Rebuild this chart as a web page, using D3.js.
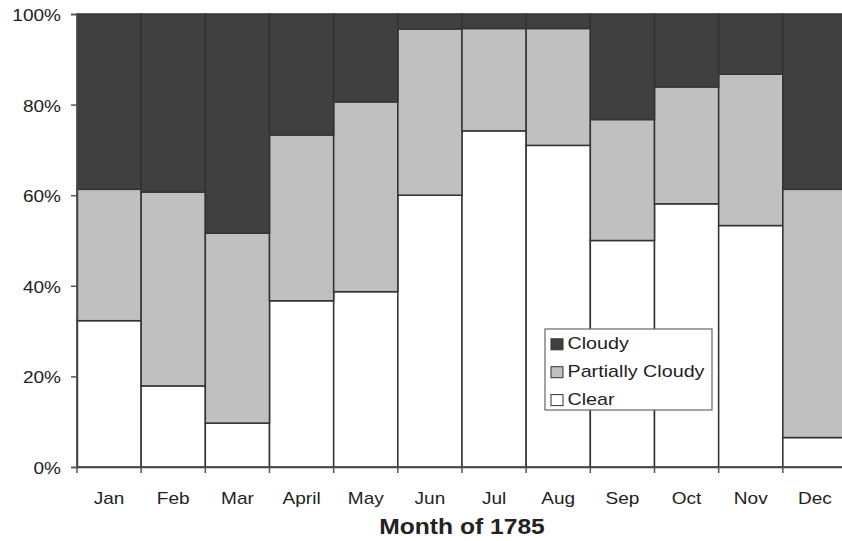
<!DOCTYPE html>
<html><head><meta charset="utf-8">
<script src="https://cdn.jsdelivr.net/npm/d3@7"></script>
<style>body{margin:0;background:#fff}svg{display:block}text{font-family:"Liberation Sans",Arial,sans-serif;fill:#222}</style>
</head><body>
<script>
const months = ["Jan","Feb","Mar","April","May","Jun","Jul","Aug","Sep","Oct","Nov","Dec"];
const clear =   [32.3, 17.9, 9.7, 36.7, 38.7, 60.0, 74.2, 71.0, 50.0, 58.1, 53.3, 6.5];
const partly =  [29.0, 42.8, 41.9, 36.6, 41.9, 36.7, 22.6, 25.8, 26.7, 25.8, 33.4, 54.8];
const cloudy =  [38.7, 39.3, 48.4, 26.7, 19.4, 3.3, 3.2, 3.2, 23.3, 16.1, 13.3, 38.7];
const seriesNames = ["Clear","Partially Cloudy","Cloudy"];
const colors = {"Clear":"#ffffff","Partially Cloudy":"#c0c0c0","Cloudy":"#404040"};
const yTicks = [0,20,40,60,80,100];
const xTitle = "Month of 1785";

const W=842,H=541, L=77, T=14, B=467, R=847, SX=1.12;
const svg=d3.select("body").append("svg").attr("width",W).attr("height",H);
const x=d3.scaleBand().domain(months).range([L,R]).padding(0);
const y=d3.scaleLinear().domain([0,100]).range([B,T]);

const rows=months.map((m,i)=>({month:m,"Clear":clear[i],"Partially Cloudy":partly[i],"Cloudy":cloudy[i]}));
const stack=d3.stack().keys(seriesNames).offset(d3.stackOffsetExpand)(rows);

svg.append("g").selectAll("g").data(stack).join("g")
  .attr("fill",d=>colors[d.key])
  .selectAll("rect").data(d=>d).join("rect")
  .attr("x",d=>x(d.data.month)).attr("width",x.bandwidth())
  .attr("y",d=>y(d[1]*100)).attr("height",d=>y(d[0]*100)-y(d[1]*100))
  .attr("stroke","#333").attr("stroke-width",1.5);

// y axis
const ya=svg.append("g").attr("transform",`translate(${L},0)`)
  .call(d3.axisLeft(y).tickValues(yTicks).tickFormat(d=>d+"%").tickSize(6).tickPadding(10));
ya.select(".domain").attr("stroke","#444").attr("stroke-width",1.5);
ya.selectAll(".tick line").attr("stroke","#555").attr("stroke-width",1.5);
ya.selectAll("text").style("font-size","17px").attr("fill","#222")
  .attr("x",0).attr("dy",null).attr("y",0)
  .attr("transform",`translate(-16,6.5) scale(${SX},1)`);

// x axis
const xa=svg.append("g").attr("transform",`translate(0,${B})`)
  .call(d3.axisBottom(x).tickSize(0).tickPadding(20));
xa.select(".domain").attr("stroke","#444").attr("stroke-width",1.5);
xa.selectAll("text").style("font-size","17px").attr("fill","#222")
  .attr("y",0).attr("dy",null)
  .attr("transform",`translate(0,37) scale(${SX},1)`);
// boundary ticks
const bounds=months.map(m=>x(m)).concat([R]);
svg.append("g").selectAll("line").data(bounds).join("line")
  .attr("x1",d=>d).attr("x2",d=>d).attr("y1",B).attr("y2",B+6)
  .attr("stroke","#555").attr("stroke-width",1.5);

svg.append("text").attr("transform",`translate(462,534) scale(${SX},1)`).attr("text-anchor","middle")
  .style("font-size","22px").style("font-weight","bold").attr("fill","#111").text(xTitle);

// legend
const lg=svg.append("g");
lg.append("rect").attr("x",545).attr("y",329).attr("width",167).attr("height",81)
  .attr("fill","#fff").attr("stroke","#666").attr("stroke-width",1.2);
const legendOrder=["Cloudy","Partially Cloudy","Clear"];
legendOrder.forEach((k,i)=>{
  const base=349.3+i*27.9;
  lg.append("rect").attr("x",551).attr("y",base-10.5).attr("width",12).attr("height",11)
    .attr("fill",colors[k]).attr("stroke","#333").attr("stroke-width",1);
  lg.append("text").attr("transform",`translate(567.5,${base}) scale(1.16,1)`)
    .style("font-size","17px").attr("fill","#222").text(k);
});
</script>
</body></html>
